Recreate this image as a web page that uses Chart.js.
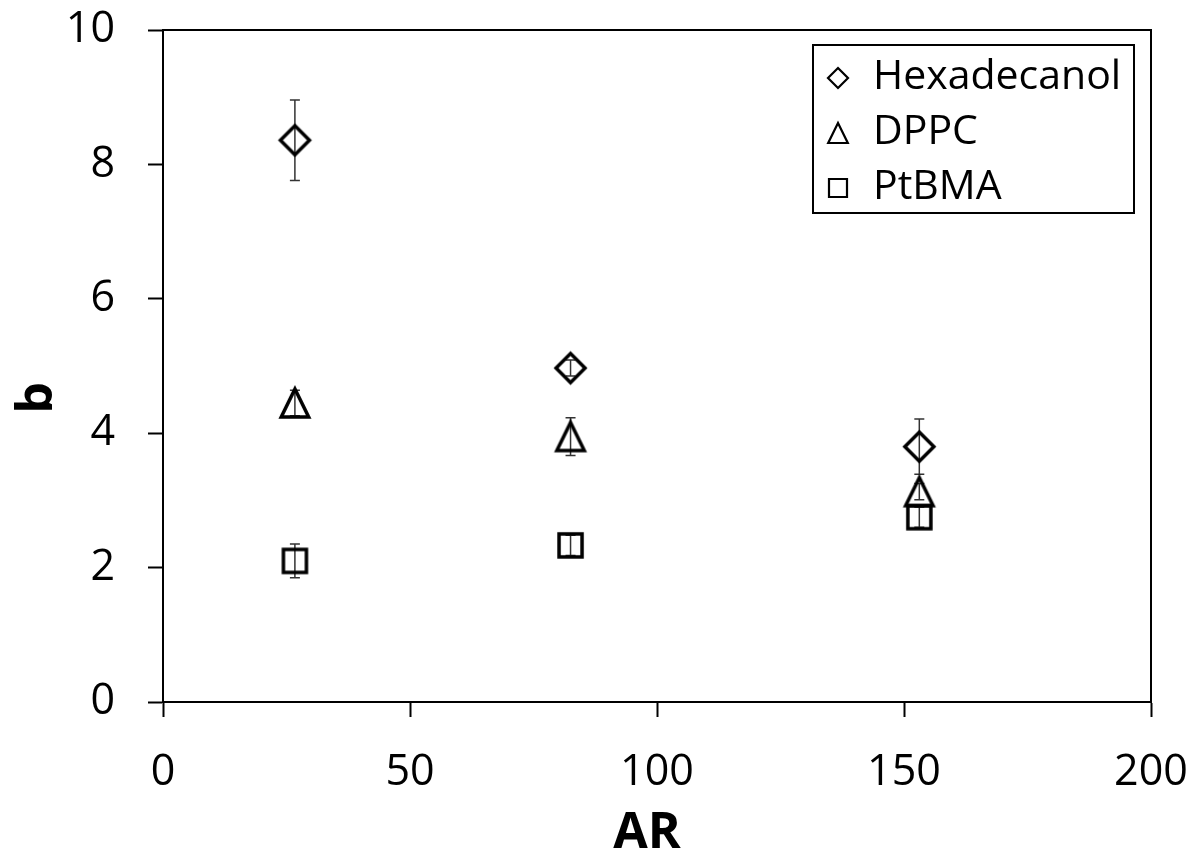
<!DOCTYPE html>
<html>
<head>
<meta charset="utf-8">
<script src="https://cdn.jsdelivr.net/npm/chart.js@4"></script>
<style>
  html, body { margin: 0; padding: 0; background: #fff; }
  #chart { display: block; }
</style>
</head>
<body>
<canvas id="chart" width="1195" height="855"></canvas>
<script>
// Aspect ratio (x) and b values
const arValues = [26.7, 82.5, 153.1];
const seriesNames = ['Hexadecanol', 'DPPC', 'PtBMA'];
const hexB = [8.36, 4.97, 3.80];
const hexErr = [0.60, 0.12, 0.41];
const dppcB = [4.45, 3.95, 3.13];
const dppcErr = [0.19, 0.28, 0.12];
const ptbmaB = [2.10, 2.33, 2.75];
const ptbmaErr = [0.25, 0.15, 0.15];
const xTicks = [0, 50, 100, 150, 200];
const yTicks = [0, 2, 4, 6, 8, 10];

const FONT = '"Open Sans", "DejaVu Sans", sans-serif';

// Build a hollow marker on a small canvas so its box is centred on the point
function makeMarker(shape, size, lw) {
  const pad = Math.ceil(lw) + 1;
  const dim = Math.ceil(size + pad * 2);
  const c = document.createElement('canvas');
  c.width = dim;
  c.height = dim;
  const ctx = c.getContext('2d');
  const m = dim / 2;
  const h = size / 2;
  ctx.strokeStyle = '#000';
  ctx.lineWidth = lw;
  ctx.lineJoin = 'miter';
  ctx.beginPath();
  if (shape === 'diamond') {
    ctx.moveTo(m, m - h);
    ctx.lineTo(m + h, m);
    ctx.lineTo(m, m + h);
    ctx.lineTo(m - h, m);
  } else if (shape === 'triangle') {
    ctx.moveTo(m, m - h);
    ctx.lineTo(m + h * 0.98, m + h);
    ctx.lineTo(m - h * 0.98, m + h);
  } else {
    ctx.rect(m - h, m - h, size, size);
  }
  ctx.closePath();
  ctx.stroke();
  return c;
}

const shapes = ['diamond', 'triangle', 'square'];
const markerSizes = [29, 28, 23];
const pointImgs = shapes.map((s, i) => makeMarker(s, markerSizes[i], 3.5));
const legendImgs = [makeMarker('diamond', 20, 2.2), makeMarker('triangle', 20, 2.2), makeMarker('square', 18, 2.2)];

const seriesB = [hexB, dppcB, ptbmaB];
const seriesErr = [hexErr, dppcErr, ptbmaErr];

const datasets = seriesNames.map((name, i) => ({
  label: name,
  data: arValues.map((x, j) => ({ x: x, y: seriesB[i][j] })),
  errors: seriesErr[i],
  pointStyle: pointImgs[i],
  pointRadius: 15,
  showLine: false,
}));

// Vertical error bars with small caps
const errorBars = {
  id: 'errorBars',
  beforeDatasetsDraw(chart) {
    const ctx = chart.ctx;
    const xs = chart.scales.x;
    const ys = chart.scales.y;
    ctx.save();
    ctx.strokeStyle = '#333';
    ctx.lineWidth = 1.5;
    chart.data.datasets.forEach((ds) => {
      ds.data.forEach((p, j) => {
        const e = ds.errors[j];
        const px = xs.getPixelForValue(p.x);
        const top = ys.getPixelForValue(p.y + e);
        const bot = ys.getPixelForValue(p.y - e);
        ctx.beginPath();
        ctx.moveTo(px, top);
        ctx.lineTo(px, bot);
        ctx.moveTo(px - 5, top);
        ctx.lineTo(px + 5, top);
        ctx.moveTo(px - 5, bot);
        ctx.lineTo(px + 5, bot);
        ctx.stroke();
      });
    });
    ctx.restore();
  },
};

// Frame, axis titles and boxed legend
const decorations = {
  id: 'decorations',
  afterDraw(chart) {
    const ctx = chart.ctx;
    const area = chart.chartArea;
    ctx.save();
    ctx.strokeStyle = '#000';
    ctx.lineWidth = 2;
    ctx.beginPath();
    ctx.moveTo(area.left, area.top);
    ctx.lineTo(area.right, area.top);
    ctx.lineTo(area.right, area.bottom);
    ctx.stroke();

    // axis titles
    ctx.fillStyle = '#000';
    ctx.font = 'bold 50px ' + FONT;
    ctx.textAlign = 'center';
    ctx.textBaseline = 'alphabetic';
    ctx.fillText('AR', 647, 848);
    ctx.save();
    ctx.translate(52, 398);
    ctx.rotate(-Math.PI / 2);
    ctx.fillText('b', 0, 0);
    ctx.restore();

    // legend box
    const boxW = 321;
    const boxH = 168;
    const boxL = area.right - 17 - boxW;
    const boxT = area.top + 15;
    ctx.fillStyle = '#fff';
    ctx.fillRect(boxL, boxT, boxW, boxH);
    ctx.strokeRect(boxL, boxT, boxW, boxH);
    ctx.font = '41px ' + FONT;
    ctx.textAlign = 'left';
    ctx.fillStyle = '#000';
    chart.data.datasets.forEach((ds, i) => {
      const cy = boxT + 33 + i * 55;
      const img = legendImgs[i];
      ctx.drawImage(img, boxL + 25 - img.width / 2, cy - img.height / 2);
      ctx.fillText(ds.label, boxL + 60, cy + 11);
    });
    ctx.restore();
  },
};

new Chart(document.getElementById('chart'), {
  type: 'scatter',
  data: { datasets: datasets },
  plugins: [errorBars, decorations],
  options: {
    responsive: false,
    animation: false,
    events: [],
    layout: { padding: { top: 30, right: 44, left: 0, bottom: 0 } },
    plugins: {
      legend: { display: false },
      tooltip: { enabled: false },
    },
    scales: {
      x: {
        type: 'linear',
        min: 0,
        max: 200,
        afterFit(scale) {
          scale.height = 153;
          scale.paddingLeft = 0;
          scale.paddingRight = 0;
        },
        afterBuildTicks(scale) { scale.ticks = xTicks.map((v) => ({ value: v })); },
        grid: { drawOnChartArea: false, drawTicks: true, tickLength: 15, tickWidth: 2, tickColor: '#000' },
        border: { display: true, color: '#000', width: 2 },
        ticks: { color: '#000', padding: 30, maxRotation: 0, font: { family: FONT, size: 43 } },
      },
      y: {
        type: 'linear',
        min: 0,
        max: 10,
        afterFit(scale) {
          scale.width = 163;
          scale.paddingTop = 0;
          scale.paddingBottom = 0;
        },
        afterBuildTicks(scale) { scale.ticks = yTicks.map((v) => ({ value: v })); },
        grid: { drawOnChartArea: false, drawTicks: true, tickLength: 15, tickWidth: 2, tickColor: '#000' },
        border: { display: true, color: '#000', width: 2 },
        ticks: { color: '#000', padding: 33, font: { family: FONT, size: 43 } },
      },
    },
  },
});
</script>
</body>
</html>
